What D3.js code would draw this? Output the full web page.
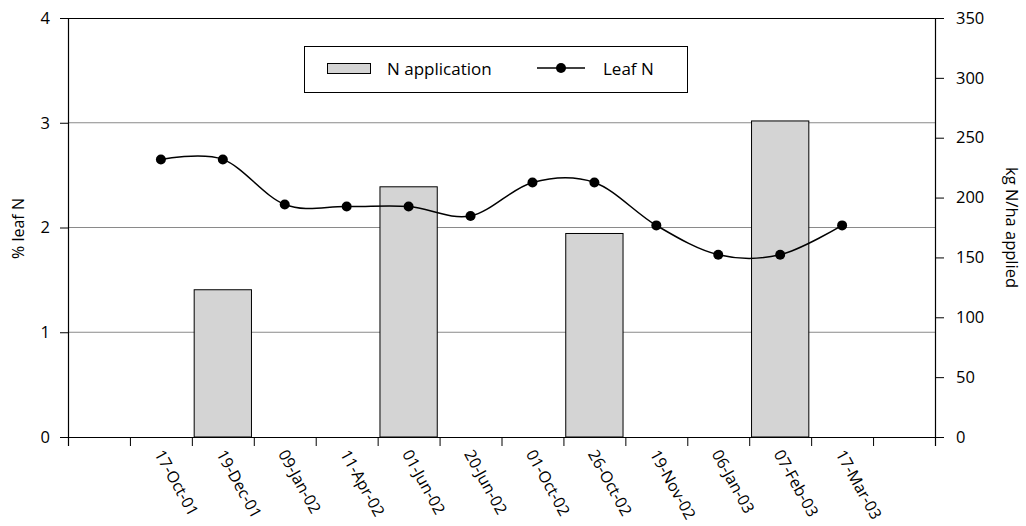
<!DOCTYPE html>
<html>
<head>
<meta charset="utf-8">
<script src="https://cdn.jsdelivr.net/npm/d3@7"></script>
<style>
  html, body { margin: 0; padding: 0; background: #fff; }
  svg { display: block; }
  text { font-family: "Open Sans", "Noto Sans", sans-serif; fill: #000; }
</style>
</head>
<body>
<svg id="chart" width="1026" height="526"></svg>
<script>
// Sampling dates (one slot per date, plus an empty slot at each end)
const dates = ["17-Oct-01", "19-Dec-01", "09-Jan-02", "11-Apr-02", "01-Jun-02", "20-Jun-02",
               "01-Oct-02", "26-Oct-02", "19-Nov-02", "06-Jan-03", "07-Feb-03", "17-Mar-03"];

// Leaf N concentration (%) at each sampling date
const leafN = [2.65, 2.65, 2.22, 2.20, 2.20, 2.11, 2.43, 2.43, 2.02, 1.74, 1.74, 2.02];

// Nitrogen applications (kg N/ha)
const applDates = ["19-Dec-01", "01-Jun-02", "26-Oct-02", "07-Feb-03"];
const applN = [123, 209, 170, 264];

// Axis ticks
const leftTicks = [0, 1, 2, 3, 4];
const rightTicks = [0, 50, 100, 150, 200, 250, 300, 350];

const svg = d3.select("#chart");
const plot = { left: 68, right: 935, top: 18, bottom: 437 };

const slots = ["", ...dates, " "];
const x = d3.scaleBand().domain(slots).range([plot.left, plot.right]).paddingInner(0).paddingOuter(0);
const yL = d3.scaleLinear().domain([0, 4]).range([plot.bottom, plot.top]);
const yR = d3.scaleLinear().domain([0, 350]).range([plot.bottom, plot.top]);

// Horizontal gridlines
svg.append("g")
  .selectAll("line")
  .data(leftTicks.filter(d => d > 0 && d < 4))
  .join("line")
  .attr("x1", plot.left).attr("x2", plot.right)
  .attr("y1", d => yL(d)).attr("y2", d => yL(d))
  .attr("stroke", "#8a8a8a").attr("stroke-width", 1);

// Top border of the plot area
svg.append("line")
  .attr("x1", plot.left).attr("x2", plot.right)
  .attr("y1", plot.top + 0.5).attr("y2", plot.top + 0.5)
  .attr("stroke", "#000").attr("stroke-width", 1.2);

// Application bars
const barW = x.bandwidth() * 0.925;
svg.append("g")
  .selectAll("rect")
  .data(applDates.map((d, i) => ({ date: d, v: applN[i] })))
  .join("rect")
  .attr("x", d => x(d.date) + x.bandwidth() / 2 - barW / 2)
  .attr("width", barW)
  .attr("y", d => yR(d.v))
  .attr("height", d => yR(0) - yR(d.v))
  .attr("fill", "#d4d4d4")
  .attr("stroke", "#000")
  .attr("stroke-width", 1);

// Leaf N smoothed line with markers
const pts = dates.map((d, i) => [x(d) + x.bandwidth() / 2, yL(leafN[i])]);
svg.append("path")
  .attr("d", d3.line().curve(d3.curveCardinal.tension(0))(pts))
  .attr("fill", "none")
  .attr("stroke", "#000")
  .attr("stroke-width", 1.5);
svg.append("g")
  .selectAll("circle")
  .data(pts)
  .join("circle")
  .attr("cx", d => d[0]).attr("cy", d => d[1])
  .attr("r", 5).attr("fill", "#000");

// Left axis
const axL = svg.append("g")
  .attr("transform", `translate(${plot.left},0)`)
  .call(d3.axisLeft(yL).tickValues(leftTicks).tickFormat(d3.format("d")).tickSizeOuter(0).tickSize(8).tickPadding(10));
// Right axis
const axR = svg.append("g")
  .attr("transform", `translate(${plot.right},0)`)
  .call(d3.axisRight(yR).tickValues(rightTicks).tickFormat(d3.format("d")).tickSizeOuter(0).tickSize(9).tickPadding(12));
// Bottom axis: ticks on slot boundaries
const xEdges = d3.scaleLinear().domain([0, slots.length]).range([plot.left, plot.right]);
const axB = svg.append("g")
  .attr("transform", `translate(0,${plot.bottom})`)
  .call(d3.axisBottom(xEdges).tickValues(d3.range(slots.length + 1)).tickFormat("").tickSizeOuter(0).tickSize(9));

[axL, axR, axB].forEach(g => {
  g.select(".domain").attr("stroke", "#000").attr("stroke-width", 1.2);
  g.selectAll(".tick line").attr("stroke", "#000").attr("stroke-width", 1);
  g.selectAll(".tick text").attr("font-size", 16.5).attr("font-family", "Open Sans").attr("fill", "#000");
});

// Rotated date labels
svg.append("g")
  .selectAll("text")
  .data(dates)
  .join("text")
  .attr("transform", d => `translate(${x(d) + x.bandwidth() / 2 - 2},${plot.bottom + 14}) rotate(61)`)
  .attr("dy", "0.35em")
  .attr("font-size", 16)
  .text(d => d);

// Axis titles
svg.append("text")
  .attr("transform", `translate(18,${(plot.top + plot.bottom) / 2 + 1}) rotate(-90)`)
  .attr("text-anchor", "middle")
  .attr("dy", "0.35em")
  .attr("font-size", 16)
  .text("% leaf N");
svg.append("text")
  .attr("transform", `translate(1012,${(plot.top + plot.bottom) / 2}) rotate(90)`)
  .attr("text-anchor", "middle")
  .attr("dy", "0.35em")
  .attr("font-size", 16.5)
  .text("kg N/ha applied");

// Legend
const lg = svg.append("g");
lg.append("rect")
  .attr("x", 304.5).attr("y", 46.5).attr("width", 383).attr("height", 46)
  .attr("fill", "#fff").attr("stroke", "#000").attr("stroke-width", 1);
lg.append("rect")
  .attr("x", 327.5).attr("y", 63.5).attr("width", 43).attr("height", 10)
  .attr("fill", "#d4d4d4").attr("stroke", "#000").attr("stroke-width", 1);
lg.append("text").attr("x", 387).attr("y", 69).attr("dy", "0.35em").attr("font-size", 17).text("N application");
lg.append("line")
  .attr("x1", 537).attr("x2", 585).attr("y1", 68).attr("y2", 68)
  .attr("stroke", "#000").attr("stroke-width", 1.5);
lg.append("circle").attr("cx", 561).attr("cy", 68).attr("r", 5).attr("fill", "#000");
lg.append("text").attr("x", 603).attr("y", 69).attr("dy", "0.35em").attr("font-size", 17).text("Leaf N");
</script>
</body>
</html>
